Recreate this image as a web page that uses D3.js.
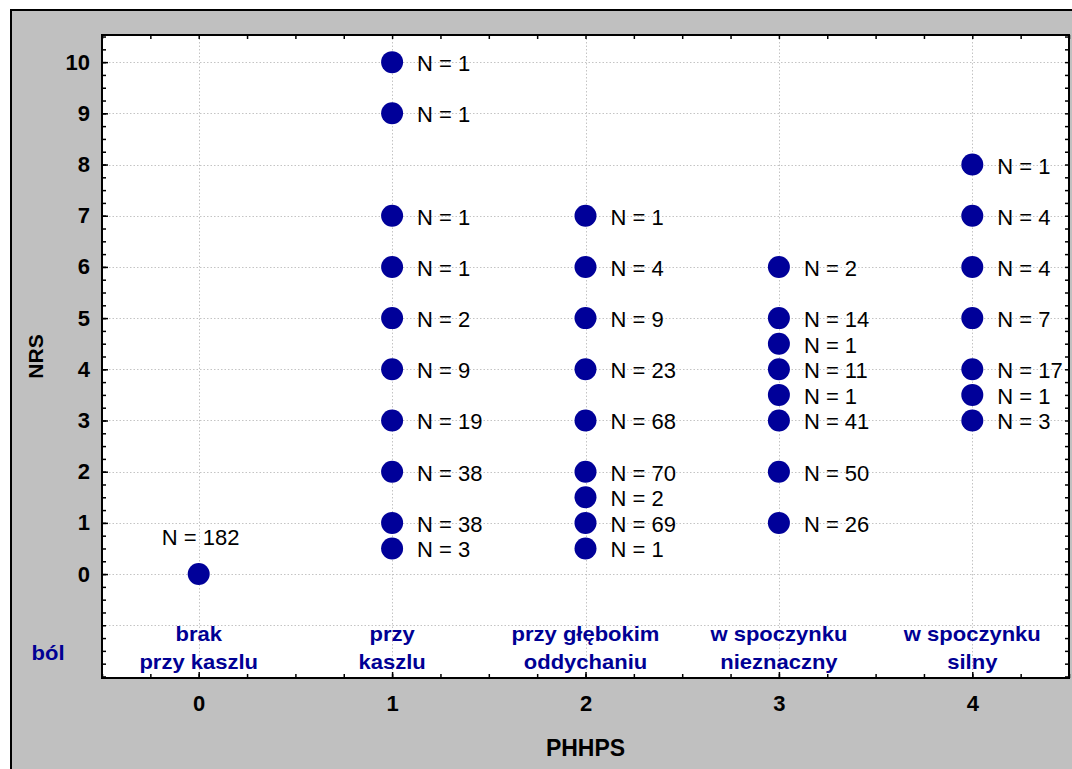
<!DOCTYPE html>
<html>
<head>
<meta charset="utf-8">
<script src="https://cdn.jsdelivr.net/npm/d3@7"></script>
<style>
  html, body { margin: 0; padding: 0; background: #ffffff; }
  svg { display: block; font-family: "Liberation Sans", Arial, Helvetica, sans-serif; }
</style>
</head>
<body>
<svg id="chart" width="1072" height="769"></svg>
<script>
// PHHPS categories (x) and their descriptive labels
const categories = [0, 1, 2, 3, 4];
const categoryLines = [
  ["brak", "przy kaszlu"],
  ["przy", "kaszlu"],
  ["przy głębokim", "oddychaniu"],
  ["w spoczynku", "nieznaczny"],
  ["w spoczynku", "silny"]
];
const rowTitle = "ból";

// NRS values observed within each PHHPS category, with counts
const nrs0 = [0];
const count0 = [182];
const nrs1 = [10, 9, 7, 6, 5, 4, 3, 2, 1, 0.5];
const count1 = [1, 1, 1, 1, 2, 9, 19, 38, 38, 3];
const nrs2 = [7, 6, 5, 4, 3, 2, 1.5, 1, 0.5];
const count2 = [1, 4, 9, 23, 68, 70, 2, 69, 1];
const nrs3 = [6, 5, 4.5, 4, 3.5, 3, 2, 1];
const count3 = [2, 14, 1, 11, 1, 41, 50, 26];
const nrs4 = [8, 7, 6, 5, 4, 3.5, 3];
const count4 = [1, 4, 4, 7, 17, 1, 3];

// Axis tick labels
const yTickLabels = [0, 1, 2, 3, 4, 5, 6, 7, 8, 9, 10];
const xTickLabels = [0, 1, 2, 3, 4];
const yTitle = "NRS";
const xTitle = "PHHPS";

const nrsByCat = [nrs0, nrs1, nrs2, nrs3, nrs4];
const countByCat = [count0, count1, count2, count3, count4];
const points = [];
categories.forEach((c, i) => {
  nrsByCat[i].forEach((v, j) => points.push({ cat: c, nrs: v, n: countByCat[i][j], single: nrsByCat[i].length === 1 }));
});

const W = 1072, H = 769;
const plot = { left: 102, top: 35, right: 1069, bottom: 678 };
const navy = "#000094";
const dotColor = "#000099";

const svg = d3.select("#chart");

// panel background
svg.append("rect").attr("x", 0).attr("y", 0).attr("width", W).attr("height", H).attr("fill", "#ffffff");
svg.append("rect")
  .attr("x", 11).attr("y", 10).attr("width", W + 10).attr("height", H + 10)
  .attr("fill", "#c0c0c0").attr("stroke", "#000").attr("stroke-width", 2);

const x = d3.scaleLinear().domain([-0.5, 4.5]).range([plot.left, plot.right]);
const y = d3.scaleLinear().domain([-2.03, 10.53]).range([plot.bottom, plot.top]);

// plot area
svg.append("rect")
  .attr("x", plot.left).attr("y", plot.top)
  .attr("width", plot.right - plot.left).attr("height", plot.bottom - plot.top)
  .attr("fill", "#ffffff");

// dotted grid
const grid = svg.append("g").attr("stroke", "#c4c4c4").attr("stroke-width", 1).attr("stroke-dasharray", "1.5,2");
grid.selectAll("line.h").data(d3.range(-1, 11)).join("line")
  .attr("x1", plot.left).attr("x2", plot.right)
  .attr("y1", d => Math.round(y(d)) + 0.5).attr("y2", d => Math.round(y(d)) + 0.5);
grid.selectAll("line.v").data(categories).join("line")
  .attr("y1", plot.top).attr("y2", plot.bottom)
  .attr("x1", d => Math.round(x(d)) + 0.5).attr("x2", d => Math.round(x(d)) + 0.5);

// category description labels inside the plot
const catG = svg.append("g").attr("fill", navy).attr("font-weight", "bold").attr("font-size", 20).attr("text-anchor", "middle");
categories.forEach((c, i) => {
  categoryLines[i].forEach((line, k) => {
    catG.append("text")
      .attr("transform", `translate(${x(c)},${y(-1) + 16 + k * 28}) scale(1.1,1)`)
      .text(line);
  });
});
svg.append("text")
  .attr("transform", `translate(48,${y(-1) + 35}) scale(1.1,1)`)
  .attr("text-anchor", "middle").attr("font-weight", "bold").attr("font-size", 20)
  .attr("fill", navy).text(rowTitle);

// points
svg.append("g").selectAll("circle").data(points).join("circle")
  .attr("cx", d => x(d.cat)).attr("cy", d => y(d.nrs)).attr("r", 11)
  .attr("fill", dotColor);

// count labels
svg.append("g").attr("font-size", 22).attr("fill", "#000").selectAll("text").data(points).join("text")
  .attr("x", d => d.single ? x(d.cat) + 2 : x(d.cat) + 25)
  .attr("y", d => d.single ? y(d.nrs) - 29 : y(d.nrs) + 9)
  .attr("text-anchor", d => d.single ? "middle" : "start")
  .text(d => `N = ${d.n}`);

// axes with inward ticks
const quarterY = d3.range(-2, 10.51, 0.25);
const quarterX = d3.range(-0.5, 4.51, 0.25);

function styleAxis(g) {
  g.select(".domain").remove();
  g.selectAll(".tick line").attr("stroke", "#000").attr("stroke-width", 1.5);
}

svg.append("g").attr("transform", `translate(${plot.left},0)`)
  .call(d3.axisLeft(y).tickValues(quarterY).tickSize(-4).tickFormat(""))
  .call(styleAxis);
svg.append("g").attr("transform", `translate(${plot.right},0)`)
  .call(d3.axisRight(y).tickValues(quarterY).tickSize(-4).tickFormat(""))
  .call(styleAxis);
svg.append("g").attr("transform", `translate(0,${plot.top})`)
  .call(d3.axisTop(x).tickValues(quarterX).tickSize(-4).tickFormat(""))
  .call(styleAxis);
svg.append("g").attr("transform", `translate(0,${plot.bottom})`)
  .call(d3.axisBottom(x).tickValues(quarterX).tickSize(-4).tickFormat(""))
  .call(styleAxis);

// labelled major ticks
const yAxis = svg.append("g").attr("transform", `translate(${plot.left},0)`)
  .call(d3.axisLeft(y).tickValues(yTickLabels).tickSize(-6).tickPadding(12).tickFormat(d3.format("d")))
  .call(styleAxis);
yAxis.selectAll("text").attr("font-size", 22).attr("font-weight", "bold").attr("fill", "#000")
  .attr("font-family", "Liberation Sans, Arial, sans-serif");

const xAxis = svg.append("g").attr("transform", `translate(0,${plot.bottom})`)
  .call(d3.axisBottom(x).tickValues(xTickLabels).tickSize(-6).tickPadding(17).tickFormat(d3.format("d")))
  .call(styleAxis);
xAxis.selectAll("text").attr("font-size", 22).attr("font-weight", "bold").attr("fill", "#000")
  .attr("font-family", "Liberation Sans, Arial, sans-serif");

// plot frame
svg.append("rect")
  .attr("x", plot.left).attr("y", plot.top)
  .attr("width", plot.right - plot.left).attr("height", plot.bottom - plot.top)
  .attr("fill", "none").attr("stroke", "#000").attr("stroke-width", 2);

// axis titles
svg.append("text")
  .attr("transform", `translate(43,${(plot.top + plot.bottom) / 2}) rotate(-90)`)
  .attr("text-anchor", "middle").attr("font-weight", "bold").attr("font-size", 21)
  .text(yTitle);
svg.append("text")
  .attr("x", x(2)).attr("y", 756)
  .attr("text-anchor", "middle").attr("font-weight", "bold").attr("font-size", 23)
  .text(xTitle);
</script>
</body>
</html>
